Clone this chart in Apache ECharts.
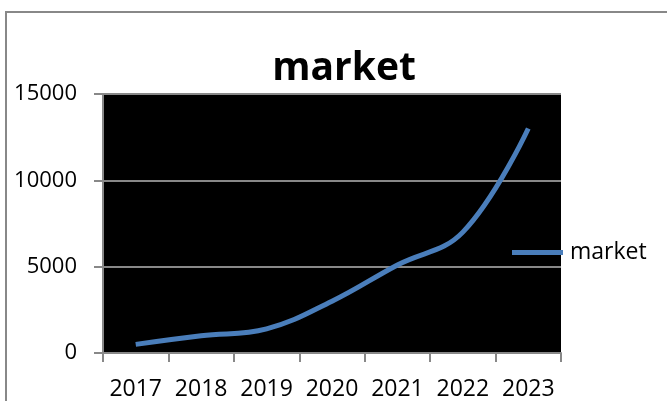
<!DOCTYPE html>
<html>
<head>
<meta charset="utf-8">
<script src="https://cdn.jsdelivr.net/npm/echarts@6/dist/echarts.min.js"></script>
<style>
html,body{margin:0;padding:0;background:#fff;}
#chart{width:667px;height:401px;}
</style>
</head>
<body>
<div id="chart"></div>
<script>
var titleText = 'market';
var seriesName = 'market';
var categories = ['2017', '2018', '2019', '2020', '2021', '2022', '2023'];
var marketValues = [500, 1000, 1400, 3000, 5100, 7000, 13000];
var yTicks = [0, 5000, 10000, 15000];

var FONT = '"Open Sans", "Liberation Sans", sans-serif';
var chart = echarts.init(document.getElementById('chart'), null, {renderer: 'canvas'});
chart.setOption({
  backgroundColor: '#fff',
  animation: false,
  title: {
    text: titleText,
    left: 339,
    textAlign: 'center',
    top: 44,
    textStyle: {fontFamily: FONT, fontWeight: 'bold', fontSize: 39, color: '#000'}
  },
  legend: {
    data: [seriesName],
    left: 507,
    top: 236,
    icon: 'rect',
    itemWidth: 51,
    itemHeight: 5,
    textStyle: {fontFamily: FONT, fontSize: 23, color: '#000', padding: [0, 0, 0, 2]}
  },
  grid: {
    left: 103, right: 106, top: 94, bottom: 47,
    show: true, backgroundColor: '#000', borderWidth: 0,
    containLabel: false
  },
  xAxis: {
    type: 'category',
    data: categories,
    boundaryGap: true,
    axisLine: {show: true, lineStyle: {color: '#888', width: 2}},
    axisTick: {show: true, length: 9, lineStyle: {color: '#888', width: 2}},
    axisLabel: {fontFamily: FONT, fontSize: 23, color: '#000', margin: 25, interval: 0}
  },
  yAxis: {
    type: 'value',
    min: yTicks[0],
    max: yTicks[yTicks.length - 1],
    interval: yTicks[1] - yTicks[0],
    axisLine: {show: true, lineStyle: {color: '#888', width: 2}},
    axisTick: {show: true, length: 9, lineStyle: {color: '#888', width: 2}},
    axisLabel: {fontFamily: FONT, fontSize: 22, color: '#000', margin: 26,
      formatter: function (v) { return String(v); }},
    splitLine: {show: true, lineStyle: {color: '#888', width: 2}}
  },
  series: [{
    name: seriesName,
    type: 'line',
    data: marketValues,
    smooth: 0.4,
    symbol: 'none',
    lineStyle: {color: '#4A7EBB', width: 5},
    itemStyle: {color: '#4A7EBB'}
  }],
  graphic: [{
    type: 'rect',
    shape: {x: 6, y: 12, width: 700, height: 420},
    style: {fill: null, stroke: '#888', lineWidth: 2},
    silent: true,
    z: -1
  }]
});
</script>
</body>
</html>
